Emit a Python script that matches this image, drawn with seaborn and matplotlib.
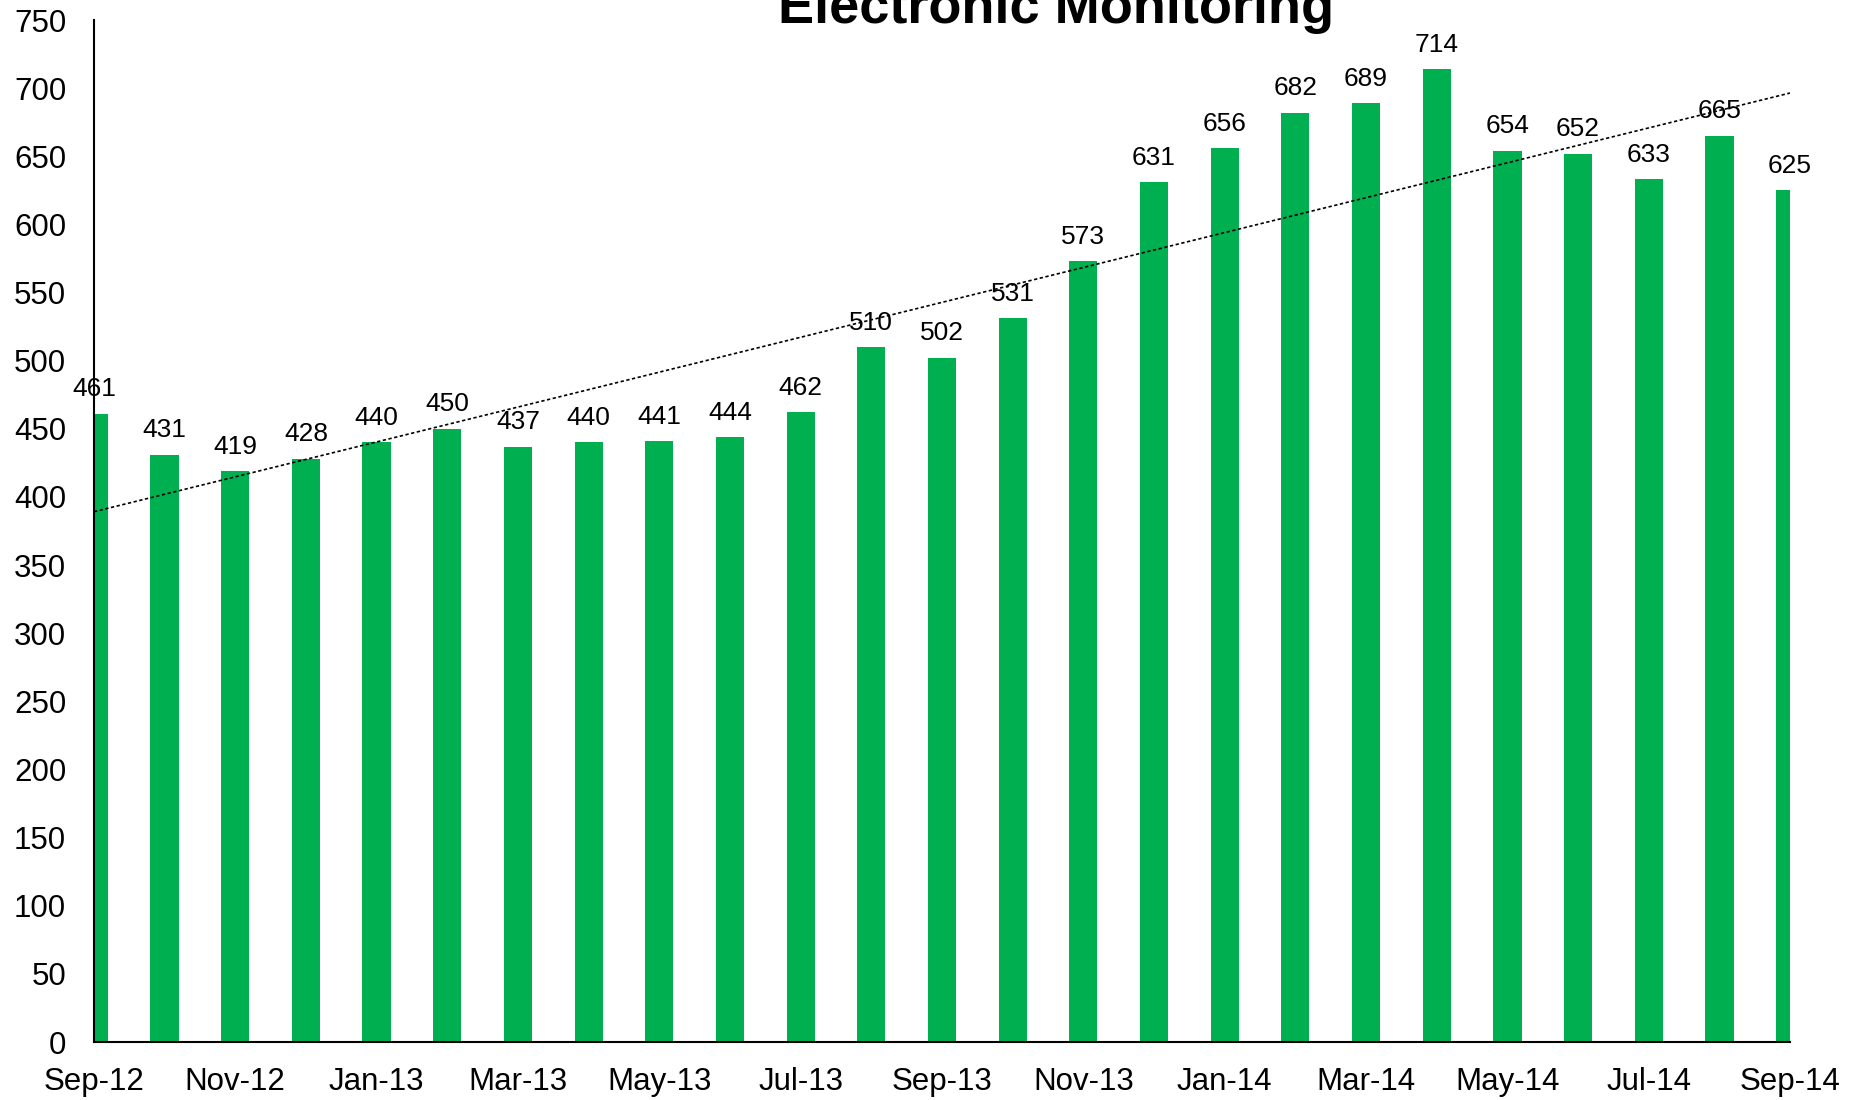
import numpy as np
import pandas as pd
import matplotlib
matplotlib.use('Agg')
import matplotlib.pyplot as plt
import seaborn as sns

months = ['Sep-12', 'Oct-12', 'Nov-12', 'Dec-12', 'Jan-13', 'Feb-13', 'Mar-13',
          'Apr-13', 'May-13', 'Jun-13', 'Jul-13', 'Aug-13', 'Sep-13', 'Oct-13',
          'Nov-13', 'Dec-13', 'Jan-14', 'Feb-14', 'Mar-14', 'Apr-14', 'May-14',
          'Jun-14', 'Jul-14', 'Aug-14', 'Sep-14']
counts = [461, 431, 419, 428, 440, 450, 437, 440, 441, 444, 462, 510, 502,
          531, 573, 631, 656, 682, 689, 714, 654, 652, 633, 665, 625]
y_ticks = list(range(0, 751, 50))
title = 'Electronic Monitoring'

sns.set_theme(style='white')
plt.rcParams['font.family'] = ['Liberation Sans', 'DejaVu Sans']

df = pd.DataFrame({'month': months, 'count': counts})
df['pos'] = np.arange(len(df))

fig = plt.figure(figsize=(18.6, 11), dpi=100)
ax = fig.add_axes([0.0505, 0.0527, 0.9119, 0.9291])

sns.barplot(data=df, x='pos', y='count', native_scale=True, width=0.4,
            color='#00B050', saturation=1, edgecolor='none', ax=ax)

# linear trendline like excel's
slope, intercept = np.polyfit(df['pos'], df['count'], 1)
trend = intercept + slope * df['pos']
sns.lineplot(x=df['pos'], y=trend, color='black', lw=1.2,
             linestyle=(0, (2, 1.5)), ax=ax)

for p, v in zip(df['pos'], df['count']):
    ax.annotate(str(v), (p, v), xytext=(0, 9), textcoords='offset points',
                ha='center', va='bottom', fontsize=19, color='black',
                clip_on=False, annotation_clip=False)

ax.set_xlim(0, len(df) - 1)
ax.set_ylim(0, 750)
ax.set_yticks(y_ticks)
ax.set_xticks(df['pos'][::2])
ax.set_xticklabels(df['month'][::2])
ax.tick_params(axis='both', labelsize=22.5, colors='black', length=8,
               width=1.5, direction='out')
ax.tick_params(axis='y', pad=12)
ax.tick_params(axis='x', pad=10)
ax.set_xlabel('')
ax.set_ylabel('')

for side in ['top', 'right']:
    ax.spines[side].set_visible(False)
for side in ['left', 'bottom']:
    ax.spines[side].set_color('black')
    ax.spines[side].set_linewidth(1.5)

fig.text(0.568, 0.992, title, ha='center', va='center', fontsize=39,
         fontweight='bold', color='black')

fig.savefig('out.png', dpi=100)
